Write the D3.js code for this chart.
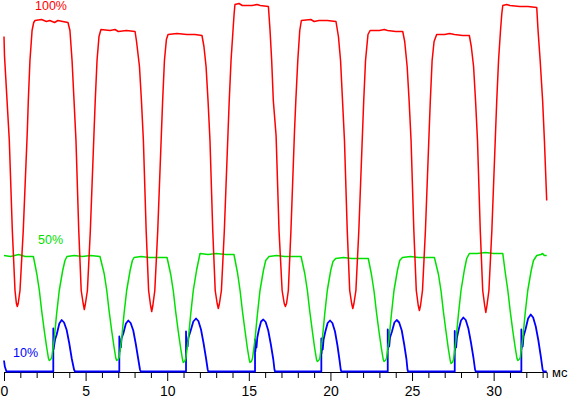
<!DOCTYPE html>
<html>
<head>
<meta charset="utf-8">
<script src="https://cdn.jsdelivr.net/npm/d3@7"></script>
<style>
  body { margin: 0; background: #fff; }
  svg { display: block; }
</style>
</head>
<body>
<div id="chart"></div>
<script>
/**********************************************************************/
// DATA (time in ms, brightness in arbitrary units):
/**********************************************************************/

// 100% brightness trace:
const trace100 = [
  [0,335],[0.03,316],[0.325,231],[0.51,141],[0.674,81],[0.76,68],[0.815,65],[0.87,68],[0.98,81],[1.18,141],[1.43,241],[1.49,271],[1.59,311],[1.72,341],[1.82,349],[1.90,351],
  [2.3,352],[2.6,350],[2.8,351],[3.1,349],[3.3,351],[3.6,350],[3.92,349],
  [4.04,341],[4.17,311],[4.29,271],[4.41,231],[4.58,141],[4.73,81],[4.85,68],[4.92,62],[4.99,68],[5.11,81],[5.29,141],[5.52,241],[5.59,271],[5.70,311],[5.82,335],[5.94,342],
  [6.5,341],[6.8,342],[7.0,340],[7.5,341],[8.03,340],
  [8.12,330],[8.30,305],[8.42,271],[8.54,231],[8.71,141],[8.86,81],[8.98,66],[9.05,60],[9.12,66],[9.24,81],[9.42,141],[9.65,241],[9.72,271],[9.83,311],[9.95,332],[10.05,337],
  [10.6,338],[11.2,337],[11.7,337],[12.13,336],
  [12.25,325],[12.38,305],[12.50,271],[12.62,231],[12.79,141],[12.94,81],[13.06,68],[13.13,63],[13.20,68],[13.32,81],[13.50,141],[13.73,241],[13.80,271],[13.91,311],[14.03,341],[14.10,358],[14.15,367],
  [14.4,368],[14.6,366],[15.2,366],[15.5,367],[15.7,366],[16.2,365],
  [16.30,341],[16.40,311],[16.50,271],[16.67,236],[16.85,141],[17.04,81],[17.17,68],[17.24,65],[17.31,68],[17.42,81],[17.58,141],[17.80,241],[17.88,271],[18.0,311],[18.12,341],[18.22,351],
  [18.8,352],[19.0,350],[19.3,351],[19.8,351],[20.34,350],
  [20.49,335],[20.62,311],[20.74,271],[20.86,231],[21.03,141],[21.18,81],[21.30,68],[21.37,63],[21.44,68],[21.56,81],[21.74,141],[21.97,241],[22.04,271],[22.15,311],[22.30,337],[22.43,341],
  [23.0,341],[23.3,342],[23.5,341],[24.0,340],[24.43,340],
  [24.55,330],[24.70,305],[24.82,271],[24.94,231],[25.11,141],[25.26,81],[25.38,66],[25.45,61],[25.52,66],[25.64,81],[25.82,141],[26.05,241],[26.12,271],[26.23,311],[26.35,330],[26.51,337],
  [27.0,337],[27.3,338],[27.6,337],[28.1,336],[28.51,336],
  [28.63,325],[28.77,305],[28.89,271],[29.01,231],[29.18,141],[29.33,81],[29.45,66],[29.52,59],[29.59,66],[29.71,81],[29.89,141],[30.12,241],[30.19,271],[30.30,311],[30.42,341],[30.50,358],[30.56,366],
  [30.8,367],[31.0,366],[31.6,365],[32.1,365],[32.64,364],
  [32.72,341],[32.85,311],[33.0,271],[33.11,231],[33.25,171]
];

// 50% brightness trace:
const trace50 = [
  [0,116],[0.4,115],[0.9,117],[1.3,115],[1.80,115],
  [2.006,98],[2.166,81],[2.306,61],[2.466,41],[2.616,24],[2.726,13],[2.776,11],[2.856,12],[2.926,14],[3.086,34],[3.226,58],[3.386,81],[3.596,101],[3.736,111],[3.86,115],
  [4.3,116],[4.8,115],[5.3,116],[5.88,115],
  [6.136,98],[6.296,81],[6.436,61],[6.596,41],[6.746,24],[6.856,13],[6.906,11],[6.986,12],[7.056,14],[7.216,34],[7.356,58],[7.516,81],[7.726,101],[7.866,111],[7.97,114],
  [8.4,115],[8.9,114],[9.5,114],[9.99,114],
  [10.217,97],[10.377,80],[10.517,60],[10.677,40],[10.827,23],[10.937,12],[10.987,9],[11.067,10],[11.137,13],[11.297,33],[11.437,57],[11.597,81],[11.807,102],[11.947,113],[12.01,118],
  [12.5,117],[13.0,118],[13.6,117],[14.09,117],
  [14.304,99],[14.464,81],[14.604,61],[14.764,41],[14.914,23],[15.024,12],[15.074,9],[15.154,10],[15.224,13],[15.384,33],[15.524,57],[15.684,81],[15.894,101],[16.034,111],[16.24,115],
  [16.7,116],[17.2,115],[17.7,115],[18.20,115],
  [18.427,98],[18.587,81],[18.727,61],[18.887,41],[19.037,23],[19.147,12],[19.197,10],[19.277,11],[19.347,13],[19.507,33],[19.647,57],[19.807,81],[20.017,101],[20.157,110],[20.32,113],
  [20.8,114],[21.3,113],[21.8,113],[22.32,113],
  [22.514,97],[22.674,80],[22.814,60],[22.974,40],[23.124,23],[23.234,12],[23.284,10],[23.364,11],[23.434,13],[23.594,33],[23.734,57],[23.894,81],[24.104,101],[24.244,111],[24.41,114],
  [24.9,115],[25.4,114],[25.9,114],[26.37,114],
  [26.62,97],[26.78,80],[26.92,60],[27.08,40],[27.23,22],[27.34,11],[27.39,8],[27.47,9],[27.54,12],[27.70,33],[27.84,57],[28.0,81],[28.21,102],[28.35,113],[28.51,118],
  [29.0,118],[29.5,119],[30.0,118],[30.56,118],
  [30.71,99],[30.87,81],[31.01,61],[31.17,41],[31.32,24],[31.43,13],[31.48,11],[31.56,12],[31.63,14],[31.79,34],[31.93,58],[32.09,81],[32.30,101],[32.44,111],[32.64,116],
  [32.9,117],[33.0,118],[33.1,116],[33.25,116]
];

// 10% brightness trace:
const trace10 = [
  [0,11],[0.05,5],[0.15,0],
  [3.02,0],[3.02,43],[3.04,22],[3.08,27],[3.13,32],[3.23,37],[3.39,48],[3.535,51.5],[3.68,49],[3.84,41.5],[4.0,28],[4.15,13],[4.29,2],[4.35,0],
  [7.065,0],[7.065,35],[7.09,20],[7.12,30],[7.16,24],[7.20,33],[7.31,38],[7.47,48],[7.616,51],[7.76,48.5],[7.92,41],[8.08,27],[8.23,12],[8.33,2],[8.376,0],
  [11.152,0],[11.152,40],[11.17,22],[11.21,31],[11.25,25],[11.30,34],[11.42,40],[11.60,50],[11.765,53],[11.91,50.5],[12.07,42],[12.23,28],[12.38,13],[12.48,2],[12.518,0],
  [15.38,0],[15.38,32],[15.40,20],[15.43,28],[15.47,24],[15.52,34],[15.62,42],[15.75,50],[15.888,52],[16.03,49.5],[16.19,41],[16.35,27],[16.50,12],[16.57,2],[16.605,0],
  [19.442,0],[19.442,33],[19.46,18],[19.49,29],[19.53,22],[19.58,32],[19.69,40],[19.83,48.5],[19.975,51],[20.12,48.5],[20.28,40],[20.43,26],[20.56,11],[20.63,2],[20.668,0],
  [23.511,0],[23.511,42],[23.53,22],[23.56,31],[23.60,25],[23.65,34],[23.77,40],[23.92,49],[24.062,51.5],[24.21,49],[24.37,41],[24.52,27],[24.66,12],[24.72,2],[24.755,0],
  [27.616,0],[27.616,40.5],[27.63,21],[27.66,31],[27.70,24],[27.75,34],[27.86,42],[28.00,51],[28.143,54],[28.29,51.5],[28.45,43],[28.61,29],[28.76,14],[28.86,2],[28.903,0],
  [31.697,0],[31.697,42],[31.71,22],[31.74,32],[31.78,25],[31.83,35],[31.95,42],[32.11,53],[32.273,57],[32.42,54],[32.58,45],[32.74,31],[32.89,15],[33.0,2],[33.045,0],[33.25,0]
];

// Series labels and axis ticks:
const seriesNames = ['10%', '50%', '100%'];
const seriesColors = ['#0000ff', '#00e000', '#ff0000'];
const tickValues = d3.range(0, 34);
const unitLabel = 'мс';

/**********************************************************************/
// CHART DEFINITIONS:
/**********************************************************************/

// Canvas Dimensions:
const svgWidth = 569;
const svgHeight = 399;

// Plot area (the chart has no frame, only a bottom axis):
const plot = { left: 4, right: 546.7, top: 1.5, bottom: 371.5 };
const axisY = 372;

// SVG Wrapper:
let svg = d3.select('#chart')
            .append('svg')
            .attr('width', svgWidth)
            .attr('height', svgHeight);

// Scales:
let xScale = d3.scaleLinear()
               .domain([0, 33.25])
               .range([plot.left, plot.right]);
let yScale = d3.scaleLinear()
               .domain([0, 370])
               .range([plot.bottom, plot.top]);

/**********************************************************************/
// AXIS:
/**********************************************************************/
let bottomAxis = d3.axisBottom(xScale)
                   .tickValues(tickValues)
                   .tickSizeOuter(0)
                   .tickSize(6)
                   .tickFormat(d => d % 5 === 0 ? d : '');

let xAxis = svg.append('g')
               .attr('transform', `translate(0, ${axisY})`)
               .call(bottomAxis);

xAxis.select('.domain').attr('stroke', '#000');
// major ticks are longer:
xAxis.selectAll('.tick line')
     .attr('stroke', '#000')
     .attr('y2', d => d % 5 === 0 ? 9 : 6);
xAxis.selectAll('.tick text')
     .attr('y', 24)
     .attr('dy', 0)
     .attr('fill', '#000')
     .style('font-family', 'Arial, "Liberation Sans", sans-serif')
     .style('font-size', '14px');

// unit label:
svg.append('text')
   .attr('x', 552)
   .attr('y', axisY + 5)
   .attr('fill', '#000')
   .style('font-family', 'Arial, "Liberation Sans", sans-serif')
   .style('font-size', '13px')
   .text(unitLabel);

/**********************************************************************/
// TRACES:
/**********************************************************************/
let lineGen = d3.line()
                .x(d => xScale(d[0]))
                .y(d => yScale(d[1]));

const traces = [trace10, trace50, trace100];

traces.forEach(function(trace, i) {
    svg.append('path')
       .datum(trace)
       .attr('fill', 'none')
       .attr('stroke', seriesColors[i])
       .attr('stroke-width', i === 0 ? 1.8 : 1.5)
       .attr('stroke-linejoin', 'round')
       .attr('d', lineGen);
});

// series labels:
const labelPos = [[13, 357], [38, 244], [35, 10]];
seriesNames.forEach(function(name, i) {
    svg.append('text')
       .attr('x', labelPos[i][0])
       .attr('y', labelPos[i][1])
       .attr('fill', seriesColors[i])
       .style('font-family', 'Arial, "Liberation Sans", sans-serif')
       .style('font-size', '12.5px')
       .text(name);
});
</script>
</body>
</html>
